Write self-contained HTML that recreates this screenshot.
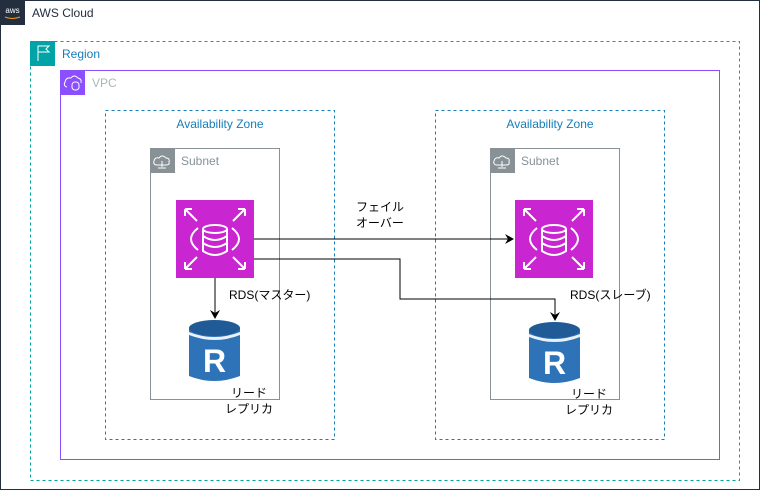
<!DOCTYPE html>
<html><head><meta charset="utf-8"><style>
html,body{margin:0;padding:0;background:#fff;}
svg{display:block;}
text{font-family:"Liberation Sans","Noto Sans CJK JP",sans-serif;font-size:12px;}
</style></head><body>
<svg width="761" height="491" viewBox="0 0 761 491" xmlns="http://www.w3.org/2000/svg">
<defs>
<marker id="ar" markerWidth="10" markerHeight="10" refX="8" refY="5" orient="auto" markerUnits="userSpaceOnUse">
<path d="M0,0 L9,5 L0,10 L3,5 Z" fill="#000"/>
</marker>
<g id="rds">
<rect x="0" y="0" width="78" height="78" fill="#C925D1"/>
<g stroke="#fff" stroke-width="2" fill="none">
<path d="M9,9 L21,21 M9,9 h7 M9,9 v7"/>
<path d="M69,9 L57,21 M69,9 h-7 M69,9 v7"/>
<path d="M9,69 L21,57 M9,69 h7 M9,69 v-7"/>
<path d="M69,69 L57,57 M69,69 h-7 M69,69 v-7"/>
<path d="M22,28 Q8,39 22,50"/>
<path d="M56,28 Q70,39 56,50"/>
<ellipse cx="39" cy="29" rx="12" ry="4"/>
<path d="M27,29 v22 q12,8 24,0 v-22 M27,36 q12,8 24,0 M27,43 q12,8 24,0"/>
</g>
</g>
<g id="rep">
<path d="M0,8 v48 q25,10 51,0 v-48 z" fill="#2E73B8"/>
<ellipse cx="25.5" cy="8" rx="25.5" ry="8" fill="#205B98"/>
<path d="M0,12 q25,10 51,0 v3 q-25,10 -51,0z" fill="#fff" opacity="0.9"/>
<text x="25.5" y="52" text-anchor="middle" fill="#fff" style="font-size:32px;font-weight:bold">R</text>
</g>
</defs>

<!-- AWS Cloud -->
<rect x="0.5" y="0.5" width="759" height="489" fill="none" stroke="#232F3E" stroke-width="1"/>
<rect x="0" y="0" width="25" height="25" fill="#232F3E"/>
<text x="12.5" y="13" text-anchor="middle" fill="#fff" style="font-size:8px">aws</text>
<path d="M5,17 q7,3 15,0" stroke="#F90" stroke-width="1" fill="none"/>
<text x="32" y="17" fill="#232F3E">AWS Cloud</text>

<!-- Region -->
<rect x="30.5" y="41.5" width="709" height="439" fill="none" stroke="#00A4A6" stroke-dasharray="3,3"/>
<rect x="30" y="41" width="25" height="25" fill="#00A4A6"/>
<path d="M38,61 V46 h11 l-3,3 l3,3 h-11" stroke="#fff" fill="none"/>
<text x="62" y="58" fill="#147EBA">Region</text>

<!-- VPC -->
<rect x="60.5" y="70.5" width="659" height="389" fill="none" stroke="#8C4FFF"/>
<rect x="60" y="70" width="25" height="25" fill="#8C4FFF"/>
<path d="M67,87 q-4,-1 -2,-5 q1,-5 6,-4 q3,-4 7,0 q4,1 3,5" stroke="#fff" fill="none"/>
<rect x="72" y="82" width="7" height="8" rx="3" stroke="#fff" fill="none"/>
<text x="92" y="87" fill="#AAB7B8">VPC</text>

<!-- AZ -->
<rect x="105.5" y="110.5" width="229" height="329" fill="none" stroke="#147EBA" stroke-dasharray="3,3"/>
<text x="220" y="128" text-anchor="middle" fill="#147EBA">Availability Zone</text>
<rect x="435.5" y="110.5" width="229" height="329" fill="none" stroke="#147EBA" stroke-dasharray="3,3"/>
<text x="550" y="128" text-anchor="middle" fill="#147EBA">Availability Zone</text>

<!-- Subnets -->
<g>
<rect x="150.5" y="148.5" width="129" height="251" fill="none" stroke="#879196"/>
<rect x="150" y="148" width="25" height="25" fill="#879196"/>
<path d="M156,165 q-3,-1 -2,-4 q1,-4 5,-3 q3,-4 7,0 q4,0 3,4 q1,3 -3,3 z M162,161 v6 M158,168 h8" stroke="#fff" fill="none"/>
<text x="181" y="165" fill="#879196">Subnet</text>
</g>
<g>
<rect x="490.5" y="148.5" width="129" height="251" fill="none" stroke="#879196"/>
<rect x="490" y="148" width="25" height="25" fill="#879196"/>
<path d="M496,165 q-3,-1 -2,-4 q1,-4 5,-3 q3,-4 7,0 q4,0 3,4 q1,3 -3,3 z M502,161 v6 M498,168 h8" stroke="#fff" fill="none"/>
<text x="521" y="165" fill="#879196">Subnet</text>
</g>

<!-- RDS icons -->
<use href="#rds" x="176" y="200"/>
<use href="#rds" x="515" y="200"/>
<use href="#rep" x="189" y="320"/>
<use href="#rep" x="529" y="322"/>

<!-- connectors -->
<path d="M254,239 H513" stroke="#000" fill="none" marker-end="url(#ar)"/>
<path d="M254,259 H400 V299 H555 V320" stroke="#000" fill="none" marker-end="url(#ar)"/>
<path d="M215,278 V318" stroke="#000" fill="none" marker-end="url(#ar)"/>

<!-- labels -->
<text x="380" y="211" text-anchor="middle">フェイル</text>
<text x="380" y="227" text-anchor="middle">オーバー</text>
<text x="229" y="299">RDS(マスター)</text>
<text x="570" y="299">RDS(スレーブ)</text>
<text x="249" y="397" text-anchor="middle">リード</text>
<text x="249" y="413" text-anchor="middle">レプリカ</text>
<text x="589" y="398" text-anchor="middle">リード</text>
<text x="589" y="414" text-anchor="middle">レプリカ</text>
</svg>
</body></html>
